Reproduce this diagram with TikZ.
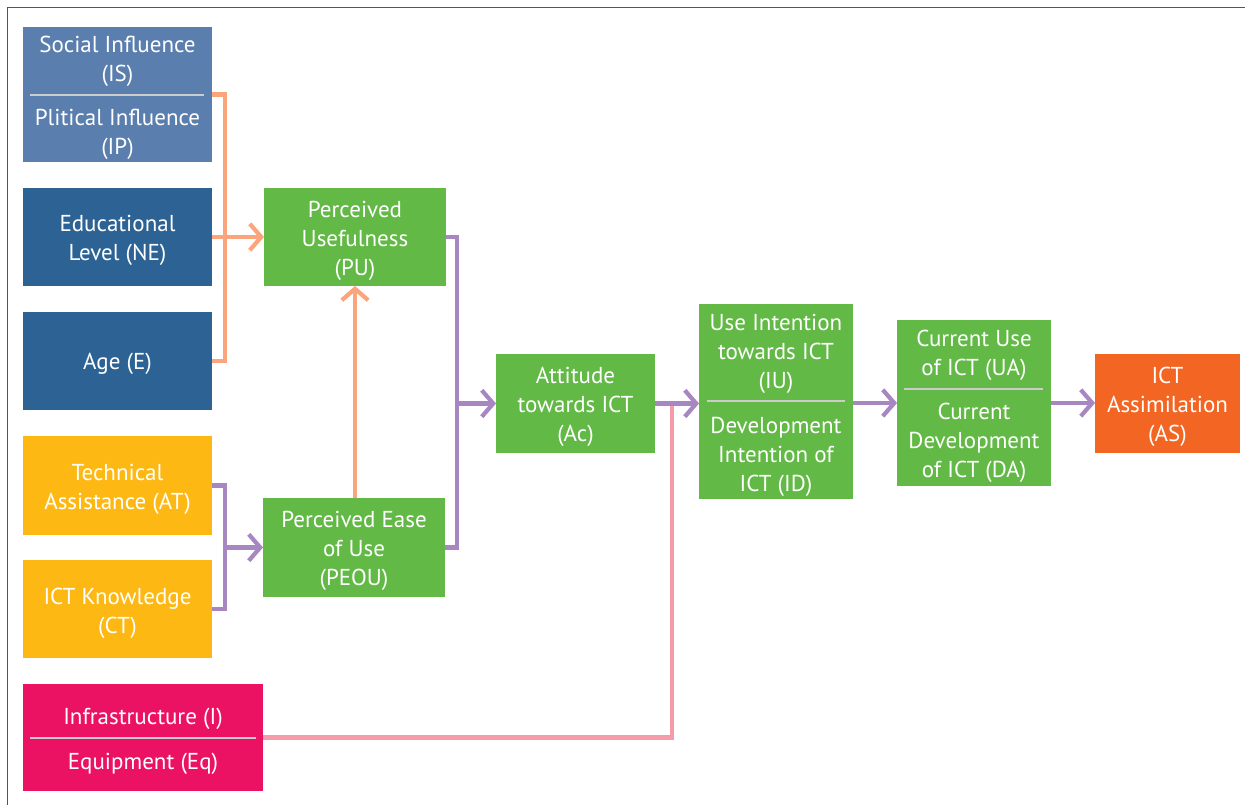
\documentclass[tikz,border=0pt]{standalone}
\usepackage{fontspec}
\setmainfont{PT Sans}
\usetikzlibrary{arrows.meta}
\definecolor{blueL}{HTML}{5A7EAD}
\definecolor{blueD}{HTML}{2D6394}
\definecolor{yel}{HTML}{FDB813}
\definecolor{mag}{HTML}{EC1263}
\definecolor{grn}{HTML}{62B946}
\definecolor{org}{HTML}{F26522}
\definecolor{lnOrg}{HTML}{FBA57D}
\definecolor{lnPur}{HTML}{A886C1}
\definecolor{lnPink}{HTML}{F59BAA}
\definecolor{frameC}{HTML}{555555}
\tikzset{
  box/.style={inner sep=0pt, outer sep=0pt, draw=none},
  lbl/.style={text=white, align=center, font=\fontsize{13.1pt}{16.4pt}\selectfont, inner sep=0pt},
  divider/.style={white!80!black, line width=1.2pt},
  conn/.style={line width=2.4pt},
  tipc/.style={-{Straight Barb[length=6.5pt,width=15pt,line width=2.4pt]}},
}
\begin{document}
\begin{tikzpicture}[x=0.02cm,y=-0.02cm]
\useasboundingbox (0,0) rectangle (1245,805);
% frame
\draw[frameC, line width=1.1pt] (7.5,805) -- (7.5,7.5) -- (1245,7.5);

% boxes
\node[box, fill=blueL, minimum width=3.78cm, minimum height=2.70cm] (isip) at (117.5,94.5) {};
\node[box, fill=blueD, minimum width=3.78cm, minimum height=1.96cm] (ne) at (117.5,237) {};
\node[box, fill=blueD, minimum width=3.78cm, minimum height=1.96cm] (age) at (117.5,361) {};
\node[box, fill=yel, minimum width=3.78cm, minimum height=1.98cm] (at) at (117.5,485.5) {};
\node[box, fill=yel, minimum width=3.78cm, minimum height=1.96cm] (ct) at (117.5,609) {};
\node[box, fill=mag, minimum width=4.80cm, minimum height=2.14cm] (ie) at (143,737.5) {};
\node[box, fill=grn, minimum width=3.64cm, minimum height=1.96cm] (pu) at (355,237) {};
\node[box, fill=grn, minimum width=3.64cm, minimum height=1.98cm] (peou) at (354,547.5) {};
\node[box, fill=grn, minimum width=3.18cm, minimum height=1.98cm] (ac) at (575.5,403.5) {};
\node[box, fill=grn, minimum width=3.08cm, minimum height=3.90cm] (iu) at (776,401.5) {};
\node[box, fill=grn, minimum width=3.08cm, minimum height=3.32cm] (ua) at (974,403) {};
\node[box, fill=org, minimum width=2.90cm, minimum height=1.98cm] (as) at (1167.5,403.5) {};

% dividers
\draw[divider] (30,95) -- (204,95);
\draw[divider] (30,738) -- (256,738);
\draw[divider] (707,401) -- (845,401);
\draw[divider] (904,389) -- (1043,389);

% labels
\node[lbl] (tis) at (117.5,61) {Social Influence\\(IS)};
\node[lbl] (tip) at (117.5,134) {Plitical Influence\\(IP)};
\node[lbl] (tne) at (117.5,240) {Educational\\Level (NE)};
\node[lbl] (tage) at (117.5,364) {Age (E)};
\node[lbl] (tat) at (117.5,489) {Technical\\Assistance (AT)};
\node[lbl] (tct) at (117.5,613) {ICT Knowledge\\(CT)};
\node[lbl] (ti) at (143,719) {Infrastructure (I)};
\node[lbl] (teq) at (143,764) {Equipment (Eq)};
\node[lbl] (tpu) at (355,241) {Perceived\\Usefulness\\(PU)};
\node[lbl] (tpeou) at (354,551) {Perceived Ease\\of Use\\(PEOU)};
\node[lbl] (tac) at (575.5,407) {Attitude\\towards ICT\\(Ac)};
\node[lbl] (tiu) at (776,354) {Use Intention\\towards ICT\\(IU)};
\node[lbl] (tid) at (776,457) {Development\\Intention of\\ICT (ID)};
\node[lbl] (tua) at (974,355.5) {Current Use\\of ICT (UA)};
\node[lbl] (tda) at (974,443) {Current\\Development\\of ICT (DA)};
\node[lbl] (tas) at (1167.5,407) {ICT\\Assimilation\\(AS)};

% junction coordinates
\coordinate (jpur) at (457,403.5);
\coordinate (jat) at (225,547.5);
\coordinate (jpink) at (672,403.5);

% orange connectors
\draw[conn, lnOrg] (isip.east) -- ++(13,0) |- (age.east);
\draw[conn, lnOrg, tipc] (ne.east) -- (pu.west);
\draw[conn, lnOrg, tipc] (peou.north -| pu.south) -- (pu.south);

% pink connector
\draw[conn, lnPink] (ie.east) -| (jpink);

% purple connectors
\draw[conn, lnPur] (pu.east) -- ++(11,0) |- (peou.east);
\draw[conn, lnPur, tipc] (jpur) -- (ac.west);
\draw[conn, lnPur] (at.east) -- ++(13,0) |- (ct.east);
\draw[conn, lnPur, tipc] (jat) -- (peou.west);
\draw[conn, lnPur, tipc] (ac.east) -- (ac.east -| iu.west);
\draw[conn, lnPur, tipc] (iu.east |- ua.west) -- (ua.west);
\draw[conn, lnPur, tipc] (ua.east) -- (ua.east -| as.west);
\end{tikzpicture}
\end{document}
